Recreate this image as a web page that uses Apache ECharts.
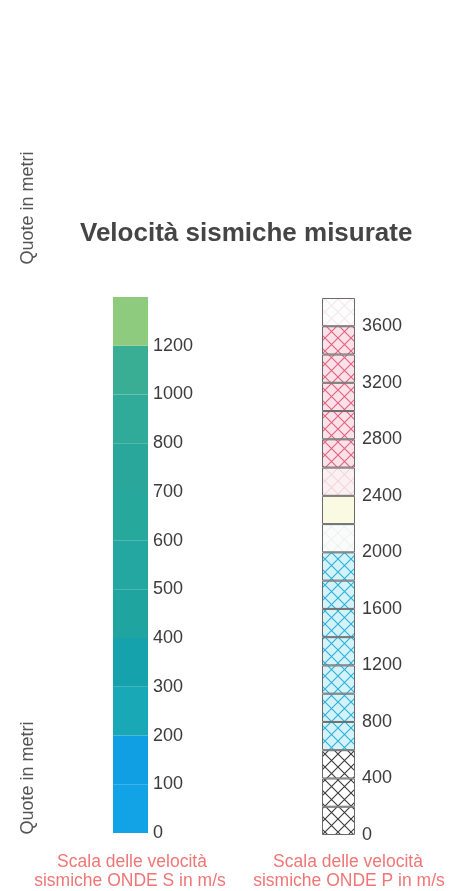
<!DOCTYPE html>
<html>
<head>
<meta charset="utf-8">
<script src="https://cdn.jsdelivr.net/npm/echarts@6/dist/echarts.min.js"></script>
<style>
  html, body { margin: 0; padding: 0; background: #ffffff; }
  #chart { width: 461px; height: 891px; }
</style>
</head>
<body>
<div id="chart"></div>
<script>
// ---- Data ----
const titleText = 'Velocità sismiche misurate';
const axisTitle = 'Quote in metri';
const sCaption = ['Scala delle velocità', 'sismiche ONDE S in m/s'];
const pCaption = ['Scala delle velocità', 'sismiche ONDE P in m/s'];

// S-wave scale: tick labels at band boundaries (bands drawn equally tall)
const sTickLabels = ['0', '100', '200', '300', '400', '500', '600', '700', '800', '1000', '1200'];
const sBandSpans = [1, 1, 1, 1, 1, 1, 1, 1, 1, 1, 1];
const sBandColors = ['#12a3e7', '#0f9fe2', '#19a8b6', '#15a2ad', '#1fa4a0', '#23a7a0',
                     '#27a89d', '#2aa79b', '#30aa99', '#3aad95', '#8ecb7f'];

// P-wave scale: linear, bands of 200 m/s
const pTickLabels = [0, 400, 800, 1200, 1600, 2000, 2400, 2800, 3200, 3600];
const pMax = 3800;
const pBandSpans = [200, 200, 200, 200, 200, 200, 200, 200, 200, 200,
                    200, 200, 200, 200, 200, 200, 200, 200, 200];
const pBandFill = ['black', 'black', 'black',
                   'blue', 'blue', 'blue', 'blue', 'blue', 'blue', 'blue',
                   'paleBlue', 'yellow', 'palePink',
                   'pink', 'pink', 'pink', 'pink', 'pink',
                   'white'];

// ---- Styles ----
const fillStyles = {
  black:    { bg: '#ffffff', line: '#3a3a3a' },
  blue:     { bg: '#d4f2fa', line: '#2ab2d8' },
  paleBlue: { bg: '#fafcfb', line: '#ebf3f3' },
  yellow:   { bg: '#fafae2', line: '#fafae2' },
  palePink: { bg: '#fbf1f2', line: '#f2d6db' },
  pink:     { bg: '#fbe1e8', line: '#e2627f' },
  white:    { bg: '#fdfdfd', line: '#f3e9eb' }
};

function makePattern(style) {
  const n = 13;
  const c = document.createElement('canvas');
  c.width = n; c.height = n;
  const g = c.getContext('2d');
  g.fillStyle = style.bg;
  g.fillRect(0, 0, n, n);
  g.strokeStyle = style.line;
  g.lineWidth = 1.1;
  g.beginPath();
  g.moveTo(0, 0); g.lineTo(n, n);
  g.moveTo(n, 0); g.lineTo(0, n);
  g.stroke();
  return { image: c, repeat: 'repeat' };
}

const FONT = 'Liberation Sans, Arial, Helvetica, sans-serif';

const series = [];
sBandSpans.forEach((v, i) => {
  series.push({
    type: 'bar', stack: 'S', xAxisIndex: 0, yAxisIndex: 0,
    data: [v], barWidth: '100%', silent: true,
    itemStyle: { color: sBandColors[i] }
  });
});
pBandSpans.forEach((v, i) => {
  series.push({
    type: 'bar', stack: 'P', xAxisIndex: 1, yAxisIndex: 1,
    data: [v], barWidth: '100%', silent: true,
    itemStyle: { color: makePattern(fillStyles[pBandFill[i]]), borderColor: '#6a6a6a', borderWidth: 1 }
  });
});

const chart = echarts.init(document.getElementById('chart'), null, { renderer: 'canvas' });
chart.setOption({
  animation: false,
  backgroundColor: '#ffffff',
  title: {
    text: titleText, left: 75, top: 216,
    textStyle: { fontFamily: FONT, fontSize: 26, fontWeight: 'bold', color: '#454545' }
  },
  grid: [
    { left: 113, top: 297, width: 35, height: 536 },
    { left: 322, top: 298, width: 33, height: 537 }
  ],
  xAxis: [
    { type: 'category', gridIndex: 0, data: ['S'], show: false },
    { type: 'category', gridIndex: 1, data: ['P'], show: false }
  ],
  yAxis: [
    {
      type: 'value', gridIndex: 0, position: 'right', min: 0, max: sBandSpans.length, interval: 1,
      axisLine: { show: false }, axisTick: { show: false }, splitLine: { show: false },
      axisLabel: {
        margin: 5, fontFamily: FONT, fontSize: 18, color: '#3c3c3c',
        formatter: v => (sTickLabels[v] !== undefined ? sTickLabels[v] : '')
      }
    },
    {
      type: 'value', gridIndex: 1, position: 'right', min: 0, max: pMax, interval: 400,
      axisLine: { show: false }, axisTick: { show: false }, splitLine: { show: false },
      axisLabel: {
        margin: 7, fontFamily: FONT, fontSize: 18, color: '#3c3c3c',
        formatter: v => (pTickLabels.indexOf(v) >= 0 ? String(v) : '')
      }
    }
  ],
  graphic: [
    { type: 'text', x: 28, y: 208, rotation: Math.PI / 2,
      style: { text: axisTitle, fill: '#555', font: '18px ' + FONT, textAlign: 'center', textVerticalAlign: 'middle' } },
    { type: 'text', x: 28, y: 778, rotation: Math.PI / 2,
      style: { text: axisTitle, fill: '#555', font: '18px ' + FONT, textAlign: 'center', textVerticalAlign: 'middle' } },
    { type: 'text', x: 132, y: 862,
      style: { text: sCaption[0], fill: '#f07676', font: '17.5px ' + FONT, textAlign: 'center', textVerticalAlign: 'middle' } },
    { type: 'text', x: 130, y: 881,
      style: { text: sCaption[1], fill: '#f07676', font: '17.5px ' + FONT, textAlign: 'center', textVerticalAlign: 'middle' } },
    { type: 'text', x: 348, y: 862,
      style: { text: pCaption[0], fill: '#f07676', font: '17.5px ' + FONT, textAlign: 'center', textVerticalAlign: 'middle' } },
    { type: 'text', x: 349, y: 881,
      style: { text: pCaption[1], fill: '#f07676', font: '17.5px ' + FONT, textAlign: 'center', textVerticalAlign: 'middle' } }
  ],
  series: series
});
</script>
</body>
</html>
